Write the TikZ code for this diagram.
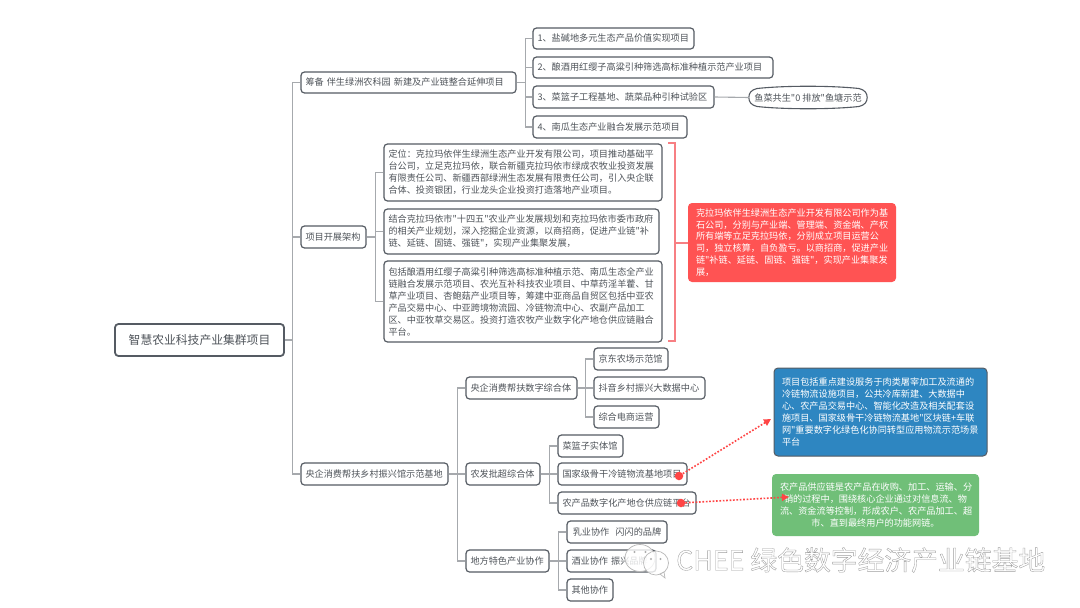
\documentclass[tikz,border=0pt]{standalone}
\usepackage{fontspec}
\newfontfamily\cjk{Noto Sans CJK SC}
\usetikzlibrary{arrows.meta}
\newcommand{\zc}{\char"FF0C\relax}
\newcommand{\zk}{\char"FF1A\relax}
\definecolor{ink}{HTML}{4F545A}
\definecolor{edgec}{HTML}{555B63}
\definecolor{linkc}{HTML}{A6A9AD}
\definecolor{redbox}{HTML}{FF5353}
\definecolor{redline}{HTML}{F77F83}
\definecolor{bluebox}{HTML}{2E86C1}
\definecolor{greenbox}{HTML}{70BF78}
\definecolor{dotred}{HTML}{FF4545}
\tikzset{
  box/.style={draw=edgec,line width=1.2pt,rounded corners=3.5pt,inner sep=0pt,text=ink,
    font=\cjk\fontsize{9.15}{12}\selectfont,align=left,fill=white},
  root/.style={box,line width=1.8pt,align=center,font=\cjk\fontsize{11.8}{16}\selectfont},
  note/.style={draw=none,rounded corners=4pt,inner sep=0pt,text=white,align=left,
    font=\cjk\fontsize{9.15}{11.9}\selectfont},
  conn/.style={draw=linkc,line width=1.1pt},
  bracket/.style={draw=redline,line width=1.1pt},
  dotlink/.style={draw=dotred,line width=1.6pt,dash pattern=on 1.7pt off 1.7pt,
    -{Triangle[length=7pt,width=7pt,fill=dotred]}},
  dotend/.style={circle,fill=dotred,inner sep=0pt,minimum size=8.5pt},
  wm/.style={text=white,font=\cjk\fontsize{26.8}{30}\selectfont,inner sep=0pt},
}
% name, x1, y1, x2, y2, style, text
\newcommand{\pbox}[7]{\node[#6,minimum width={(#4-#2)*1pt},minimum height={(#5-#3)*1pt},
  text width={(#4-#2-9)*1pt}] (#1) at ({(#2+#4)/2},{(#3+#5)/2}) {#7};}
\newcommand{\nbox}[7]{\node[#6,minimum width={(#4-#2)*1pt},minimum height={(#5-#3)*1pt},
  text width={(#4-#2-16)*1pt}] (#1) at ({(#2+#4)/2},{(#3+#5)/2}) {#7};}
\newcommand{\outl}[1]{\special{pdf:code 2 Tr 0.35 w 0.62 G}#1\special{pdf:code 0 Tr}}
\begin{document}
\begin{tikzpicture}[x=1pt,y=-1pt]
\useasboundingbox[fill=white] (0,0) rectangle (1080,608);
\pbox{root}{115}{324}{284}{356}{root}{智慧农业科技产业集群项目}
\pbox{a}{301}{72}{516}{93}{box}{筹备 伴生绿洲农科园 新建及产业链整合延伸项目}
\pbox{b}{301}{226}{366}{248}{box}{项目开展架构}
\pbox{c}{301}{463}{448}{485}{box}{央企消费帮扶乡村振兴馆示范基地}
\pbox{a1}{533}{28}{694}{49}{box}{1、盐碱地多元生态产品价值实现项目}
\pbox{a2}{533}{57}{773}{78}{box}{2、酿酒用红缨子高粱引种筛选高标准种植示范产业项目}
\pbox{a3}{533}{86}{714}{108}{box}{3、菜篮子工程基地、蔬菜品种引种试验区}
\pbox{a4}{533}{116}{687}{138}{box}{4、南瓜生态产业融合发展示范项目}
\node[inner sep=0pt,text=ink,font=\cjk\fontsize{9.15}{12}\selectfont,minimum width=118pt,minimum height=23pt] (fish) at (808,97.5) {鱼菜共生"0 排放"鱼塘示范};
\draw[draw=edgec,line width=1.1pt] (fish.west) .. controls (749,93) and (751,90) .. (757,88.5)
  .. controls (785,85.5) and (831,85.5) .. (859,88.5) .. controls (865,90) and (867,93) .. (fish.east)
  .. controls (867,102) and (865,105) .. (859,106.5) .. controls (831,109.5) and (785,109.5) .. (757,106.5)
  .. controls (751,105) and (749,102) .. (fish.west) -- cycle;
\pbox{b1}{384}{144}{662}{201}{box}{定位\zk 克拉玛依伴生绿洲生态产业开发有限公司\zc 项目推动基础平\\台公司\zc 立足克拉玛依\zc 联合新疆克拉玛依市绿成农牧业投资发展\\有限责任公司、新疆西部绿洲生态发展有限责任公司\zc 引入央企联\\合体、投资银团\zc 行业龙头企业投资打造落地产业项目。}
\pbox{b2}{384}{209}{659}{254}{box}{结合克拉玛依市"十四五"农业产业发展规划和克拉玛依市委市政府\\的相关产业规划\zc 深入挖掘企业资源\zc 以商招商\zc 促进产业链"补\\链、延链、固链、强链"\zc 实现产业集聚发展\zc}
\pbox{b3}{384}{261}{662}{342}{box}{包括酿酒用红缨子高粱引种筛选高标准种植示范、南瓜生态全产业\\链融合发展示范项目、农光互补科技农业项目、中草药淫羊藿、甘\\草产业项目、杏鲍菇产业项目等\zc 筹建中亚商品自贸区包括中亚农\\产品交易中心、中亚跨境物流园、冷链物流中心、农副产品加工\\区、中亚牧草交易区。投资打造农牧产业数字化产地仓供应链融合\\平台。}
\nbox{rednote}{688}{203}{896}{282}{note,fill=redbox}{克拉玛依伴生绿洲生态产业开发有限公司作为基\\石公司\zc 分别与产业端、管理端、资金端、产权\\所有端等立足克拉玛依\zc 分别成立项目运营公\\司\zc 独立核算\zc 自负盈亏。以商招商\zc 促进产业\\链"补链、延链、固链、强链"\zc 实现产业集聚发\\展\zc}
\nbox{bluenote}{774}{368}{987}{456}{note,fill=bluebox,draw=edgec,line width=1pt}{项目包括重点建设服务于肉类屠宰加工及流通的\\冷链物流设施项目\zc 公共冷库新建、大数据中\\心、农产品交易中心、智能化改造及相关配套设\\施项目、国家级骨干冷链物流基地"区块链+车联\\网"重要数字化绿色化协同转型应用物流示范场景\\平台}
\nbox{greennote}{772}{474}{979}{536}{note,fill=greenbox,align=center}{农产品供应链是农产品在收购、加工、运输、分\\销的过程中\zc 围绕核心企业通过对信息流、物\\流、资金流等控制\zc 形成农户、农产品加工、超\\市、直到最终用户的功能网链。}
\pbox{c1}{466}{377}{577}{399}{box}{央企消费帮扶数字综合体}
\pbox{c2}{466}{463}{540}{485}{box}{农发批超综合体}
\pbox{c3}{466}{550}{549}{572}{box}{地方特色产业协作}
\pbox{c11}{594}{348}{668}{370}{box}{京东农场示范馆}
\pbox{c12}{594}{377}{705}{399}{box}{抖音乡村振兴大数据中心}
\pbox{c13}{594}{406}{659}{428}{box}{综合电商运营}
\pbox{c21}{558}{435}{623}{457}{box}{菜篮子实体馆}
\pbox{c22}{558}{463}{687}{485}{box}{国家级骨干冷链物流基地项目}
\pbox{c23}{558}{492}{696}{514}{box}{农产品数字化产地仓供应链平台}
\pbox{c31}{567}{521}{667}{543}{box,align=center}{乳业协作\ \ 闪闪的品牌}
\pbox{c32}{567}{550}{656}{572}{box}{酒业协作 振兴品牌}
\pbox{c33}{567}{579}{613}{601}{box}{其他协作}
% connectors
\foreach \k in {a,b,c}{\draw[conn] (root.east) -- ++(8,0) |- (\k.west);}
\foreach \k in {a1,a2,a3,a4}{\draw[conn] (a.east) -- ++(9,0) |- (\k.west);}
\draw[conn] (a3.east) -- (fish.west);
\foreach \k in {b1,b2,b3}{\draw[conn] (b.east) -- ++(9,0) |- (\k.west);}
\foreach \k in {c1,c2,c3}{\draw[conn] (c.east) -- ++(9,0) |- (\k.west);}
\foreach \k in {c11,c12,c13}{\draw[conn] (c1.east) -- ++(8,0) |- (\k.west);}
\foreach \k in {c21,c22,c23}{\draw[conn] (c2.east) -- ++(9,0) |- (\k.west);}
\foreach \k in {c31,c32,c33}{\draw[conn] (c3.east) -- ++(9,0) |- (\k.west);}
% summary bracket
\coordinate (brtop) at (668,143);
\coordinate (brbot) at (668,341);
\draw[bracket] (brtop) -- ++(7,0) -- ++(0,198) -- (brbot);
\draw[bracket] (675,243) -- (rednote.west |- 0,243);
% dotted relations
\node[dotend] (d1) at (679,476) {};
\node[dotend] (d2) at (681,503) {};
\coordinate (e1) at (771,419);
\coordinate (e2) at (789,497);
\draw[dotlink] (d1) -- (e1);
\draw[dotlink] (d2) -- (e2);
% watermark
\node[wm,anchor=west] (wmark) at (676,560) {\outl{CHEE 绿色数字经济产业链基地}};
\begin{scope}[draw=black!28,fill=white,fill opacity=.8,line width=.7pt]
\filldraw (640,558) ellipse (15 and 13.5);
\fill[black!40] (634.5,552) circle (1.1) (645.5,552) circle (1.1);
\filldraw (656,563) ellipse (12.5 and 12);
\fill[black!40] (651,559) circle (1.1) (660.5,559) circle (1.1);
\filldraw (660,574) -- (665,578) -- (664,572) -- cycle;
\end{scope}
\end{tikzpicture}
\end{document}
